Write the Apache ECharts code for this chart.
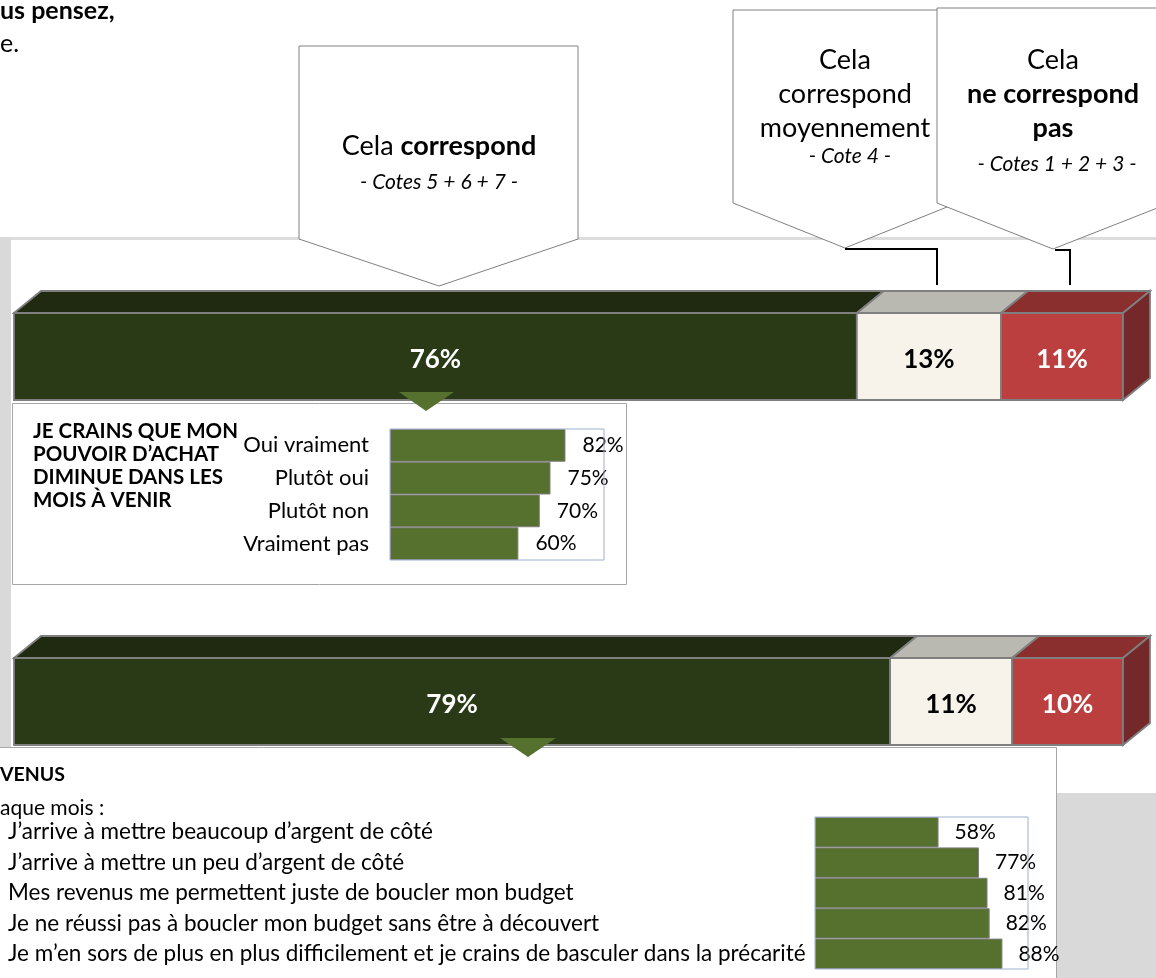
<!DOCTYPE html>
<html><head><meta charset="utf-8">
<script src="https://cdn.jsdelivr.net/npm/echarts@6/dist/echarts.min.js"></script>
<style>html,body{margin:0;padding:0;background:#fff}#c{width:1156px;height:978px}</style>
</head><body><div id="c"></div><script>
// ---- data ----
const segmentNames = ['Cela correspond', 'Cela correspond moyennement', 'Cela ne correspond pas'];
const bar1Values = [76, 13, 11];
const bar2Values = [79, 11, 10];
const pouvoirTitle = ['JE CRAINS QUE MON', 'POUVOIR D\u2019ACHAT', 'DIMINUE DANS LES', 'MOIS \u00C0 VENIR'];
const pouvoirCategories = ['Oui vraiment', 'Plut\u00F4t oui', 'Plut\u00F4t non', 'Vraiment pas'];
const pouvoirValues = [82, 75, 70, 60];
const revenusTitle = ['VENUS', 'aque mois :'];
const revenusCategories = [
  'J\u2019arrive \u00E0 mettre beaucoup d\u2019argent de c\u00F4t\u00E9',
  'J\u2019arrive \u00E0 mettre un peu d\u2019argent de c\u00F4t\u00E9',
  'Mes revenus me permettent juste de boucler mon budget',
  'Je ne r\u00E9ussi pas \u00E0 boucler mon budget sans \u00EAtre \u00E0 d\u00E9couvert',
  'Je m\u2019en sors de plus en plus difficilement et je crains de basculer dans la pr\u00E9carit\u00E9'
];
const revenusValues = [58, 77, 81, 82, 88];

// ---- styles ----
const FONT = 'Lato';
const FRONT = ['#2a3a17', '#f7f3ea', '#bc3f3f'];
const TOP = ['#1f2a11', '#b9b8b1', '#8b2e2e'];
const SIDE = '#74282a';
const LBL = ['#ffffff', '#000000', '#ffffff'];
const GREEN = '#56712e';

function buildSegs(values) {
  let acc = 0;
  return values.map((v, i) => { const s = acc; acc += v; return [s, acc, 0, i, v]; });
}
function render3D(params, api) {
  const s = api.value(0), e = api.value(1), idx = api.value(3), v = api.value(4);
  const p0 = api.coord([s, 0]), p1 = api.coord([e, 0]);
  const h = api.size([0, 1])[1];
  const top = p0[1] - h / 2, bot = p0[1] + h / 2;
  const x0 = p0[0], x1 = p1[0];
  const DX = 27, DY = 22;
  const st = { stroke: '#7f7f7f', lineWidth: 1.8 };
  const children = [
    { type: 'polygon', shape: { points: [[x0, top], [x0 + DX, top - DY], [x1 + DX, top - DY], [x1, top]] }, style: Object.assign({ fill: TOP[idx] }, st) },
    { type: 'rect', shape: { x: x0, y: top, width: x1 - x0, height: h }, style: Object.assign({ fill: FRONT[idx] }, st) }
  ];
  if (idx === params.dataInsideLength - 1) {
    children.push({ type: 'polygon', shape: { points: [[x1, top], [x1 + DX, top - DY], [x1 + DX, bot - DY], [x1, bot]] }, style: Object.assign({ fill: SIDE }, st) });
  }
  children.push({ type: 'text', style: { text: v + '%', x: (x0 + x1) / 2, y: (top + bot) / 2 + 3, align: 'center', verticalAlign: 'middle', fill: LBL[idx], font: 'bold 26px ' + FONT } });
  return { type: 'group', children };
}

const chart = echarts.init(document.getElementById('c'), null, { renderer: 'canvas' });

function txt(x, y, text, font, align, z) {
  return { type: 'text', z: z || 12, style: { x, y, text, font: font + ' ' + FONT, fill: '#000', align: align || 'left', verticalAlign: 'middle' } };
}
const gline = { stroke: '#808080', lineWidth: 1, fill: '#fff' };
const graphics = [
  // frame background
  { type: 'rect', z: 0, shape: { x: 0, y: 237, width: 11, height: 510 }, style: { fill: '#d9d9d9' } },
  { type: 'rect', z: 0, shape: { x: 11, y: 237, width: 1145, height: 3 }, style: { fill: '#dcdcdc' } },
  { type: 'rect', z: 0, shape: { x: 1056, y: 793, width: 100, height: 185 }, style: { fill: '#d9d9d9' } },
  // panel boxes
  { type: 'rect', z: 1, shape: { x: 12.5, y: 403.5, width: 614, height: 181 }, style: { fill: '#fff', stroke: '#a6a6a6', lineWidth: 1 } },
  { type: 'rect', z: 1, shape: { x: -10, y: 747.5, width: 1066.5, height: 300 }, style: { fill: '#fff', stroke: '#a6a6a6', lineWidth: 1 } },
  // pointers
  { type: 'polygon', z: 100, shape: { points: [[399, 392], [454, 392], [426, 411]] }, style: { fill: GREEN } },
  { type: 'polygon', z: 100, shape: { points: [[500, 738], [556, 738], [528, 757]] }, style: { fill: GREEN } },
  // callouts
  { type: 'polygon', z: 10, shape: { points: [[299, 46], [578, 46], [578, 239], [439, 286], [299, 239]] }, style: gline },
  { type: 'polygon', z: 10, shape: { points: [[733, 10], [957, 10], [957, 203], [845, 248], [733, 203]] }, style: gline },
  { type: 'polygon', z: 11, shape: { points: [[937, 8], [1170, 8], [1170, 203], [1053, 249], [937, 203]] }, style: gline },
  { type: 'polyline', z: 11, shape: { points: [[845, 249], [937, 249], [937, 285]] }, style: { stroke: '#000', lineWidth: 2 } },
  { type: 'polyline', z: 11, shape: { points: [[1055, 250], [1070, 250], [1070, 285]] }, style: { stroke: '#000', lineWidth: 2 } },
  // callout texts
  { type: 'text', z: 12, style: { x: 439, y: 146, text: '{n|Cela }{b|correspond}', align: 'center', verticalAlign: 'middle', rich: { n: { font: '27px ' + FONT, fill: '#000' }, b: { font: 'bold 27px ' + FONT, fill: '#000' } } } },
  txt(439, 182, '- Cotes 5 + 6 + 7 -', 'italic 21px', 'center'),
  txt(845, 60, 'Cela', '27px', 'center'),
  txt(845, 94, 'correspond', '27px', 'center'),
  txt(845, 128, 'moyennement', '27px', 'center'),
  txt(850, 156, '- Cote 4 -', 'italic 21px', 'center'),
  txt(1053, 60, 'Cela', '27px', 'center', 13),
  txt(1053, 94, 'ne correspond', 'bold 27px', 'center', 13),
  txt(1053, 128, 'pas', 'bold 27px', 'center', 13),
  txt(1057, 164, '- Cotes 1 + 2 + 3 -', 'italic 21px', 'center', 13),
  // cut question text top-left
  txt(0, 11, 'us pensez,', 'bold 25px'),
  txt(0, 44, 'e.', '25px'),
  // panel 2 title
  txt(0, 775, revenusTitle[0], 'bold 19.5px'),
  txt(0, 808, revenusTitle[1], '21px')
];
pouvoirTitle.forEach((t, i) => graphics.push(txt(33, 431 + i * 23, t, 'bold 20.5px')));

const catAxisHidden = (gi) => ({ type: 'category', gridIndex: gi, data: ['a'], show: false });
const valAxis = (gi) => ({ type: 'value', gridIndex: gi, min: 0, max: 100, show: false });

const option = {
  backgroundColor: '#fff',
  animation: false,
  graphic: graphics,
  grid: [
    { left: 14, top: 313, width: 1109, height: 87 },
    { left: 14, top: 658, width: 1109, height: 87 },
    { left: 390, top: 429, width: 214, height: 131, show: true, borderColor: '#9fb0cf', borderWidth: 1, z: 5 },
    { left: 815, top: 817, width: 213, height: 152, show: true, borderColor: '#9fb0cf', borderWidth: 1, z: 5 }
  ],
  xAxis: [valAxis(0), valAxis(1), valAxis(2), valAxis(3)],
  yAxis: [
    catAxisHidden(0), catAxisHidden(1),
    { type: 'category', gridIndex: 2, data: pouvoirCategories, inverse: true, z: 20, axisLine: { show: false }, axisTick: { show: false },
      axisLabel: { fontFamily: FONT, fontSize: 22, color: '#000', margin: 21 } },
    { type: 'category', gridIndex: 3, data: revenusCategories, inverse: true, z: 20, axisLine: { show: false }, axisTick: { show: false },
      axisLabel: { fontFamily: FONT, fontSize: 22.5, color: '#000', margin: 807, align: 'left' } }
  ],
  series: [
    { type: 'custom', name: 'bar1', xAxisIndex: 0, yAxisIndex: 0, data: buildSegs(bar1Values), renderItem: render3D, encode: { x: [0, 1], y: 2 }, silent: true, z: 20 },
    { type: 'custom', name: 'bar2', xAxisIndex: 1, yAxisIndex: 1, data: buildSegs(bar2Values), renderItem: render3D, encode: { x: [0, 1], y: 2 }, silent: true, z: 20 },
    { type: 'bar', xAxisIndex: 2, yAxisIndex: 2, data: pouvoirValues, barCategoryGap: 0, silent: true,
      itemStyle: { color: GREEN, borderColor: '#7f7f7f', borderWidth: 1 },
      label: { show: true, position: 'right', distance: 17, formatter: '{c}%', fontFamily: FONT, fontSize: 21, color: '#000' } },
    { type: 'bar', xAxisIndex: 3, yAxisIndex: 3, data: revenusValues, barCategoryGap: 0, silent: true,
      itemStyle: { color: GREEN, borderColor: '#7f7f7f', borderWidth: 1 },
      label: { show: true, position: 'right', distance: 16, formatter: '{c}%', fontFamily: FONT, fontSize: 21, color: '#000' } }
  ]
};
chart.setOption(option);
</script></body></html>
